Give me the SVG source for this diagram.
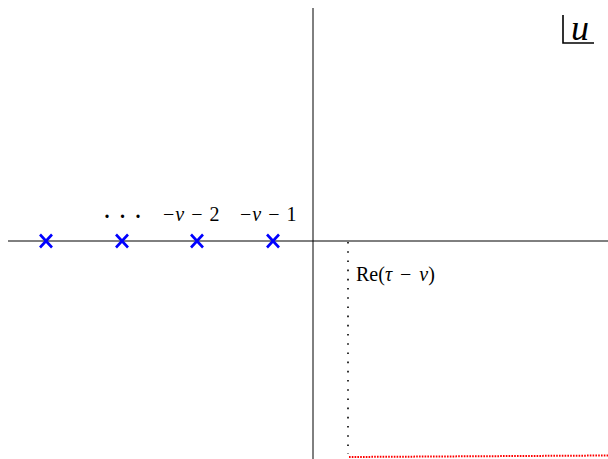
<svg xmlns="http://www.w3.org/2000/svg" width="608" height="459" viewBox="0 0 608 459">
<style>
.ax{stroke:#000;stroke-width:1;fill:none}
.pole{stroke:#0000ff;stroke-width:2.6;fill:none}
.lbl{font-family:"Liberation Serif","DejaVu Serif",serif;font-size:20px;fill:#000}
.it{font-style:italic}
</style>
<rect width="608" height="459" fill="#fff"/>
<g id="axes">
<line class="ax" x1="8" y1="241" x2="608" y2="241"/>
<line class="ax" x1="313" y1="8" x2="313" y2="459"/>
</g>
<g id="connectors">
<line x1="348" y1="242" x2="348" y2="454" stroke="#000" stroke-width="1.6" stroke-dasharray="1.6 7.6"/>
<line x1="349" y1="457" x2="608" y2="455.5" stroke="#ff0000" stroke-width="2" stroke-dasharray="1.6 1.2"/>
</g>
<g id="poles">
<path class="pole" d="M40,234.5 L52,247.5 M52,234.5 L40,247.5"/>
<path class="pole" d="M116,234.5 L128,247.5 M128,234.5 L116,247.5"/>
<path class="pole" d="M191,234.5 L203,247.5 M203,234.5 L191,247.5"/>
<path class="pole" d="M267,234.5 L279,247.5 M279,234.5 L267,247.5"/>
</g>
<g id="labels">
<text class="lbl" x="104.5 120 135.5" y="218" font-weight="bold">...</text>
<text class="lbl" x="163" y="221">−<tspan class="it" dx="1">ν</tspan><tspan dx="7">−</tspan><tspan dx="7">2</tspan></text>
<text class="lbl" x="240" y="221">−<tspan class="it" dx="1">ν</tspan><tspan dx="7">−</tspan><tspan dx="7">1</tspan></text>
<text class="lbl" x="356" y="281">Re(<tspan class="it">τ</tspan><tspan dx="8">−</tspan><tspan class="it" dx="8">ν</tspan>)</text>
</g>
<g id="plane-label">
<path d="M563,15 V43 H594" stroke="#000" stroke-width="1.6" fill="none"/>
<text x="571" y="40" font-family="Liberation Serif,DejaVu Serif,serif" font-style="italic" font-size="36" fill="#000">u</text>
</g>
</svg>
